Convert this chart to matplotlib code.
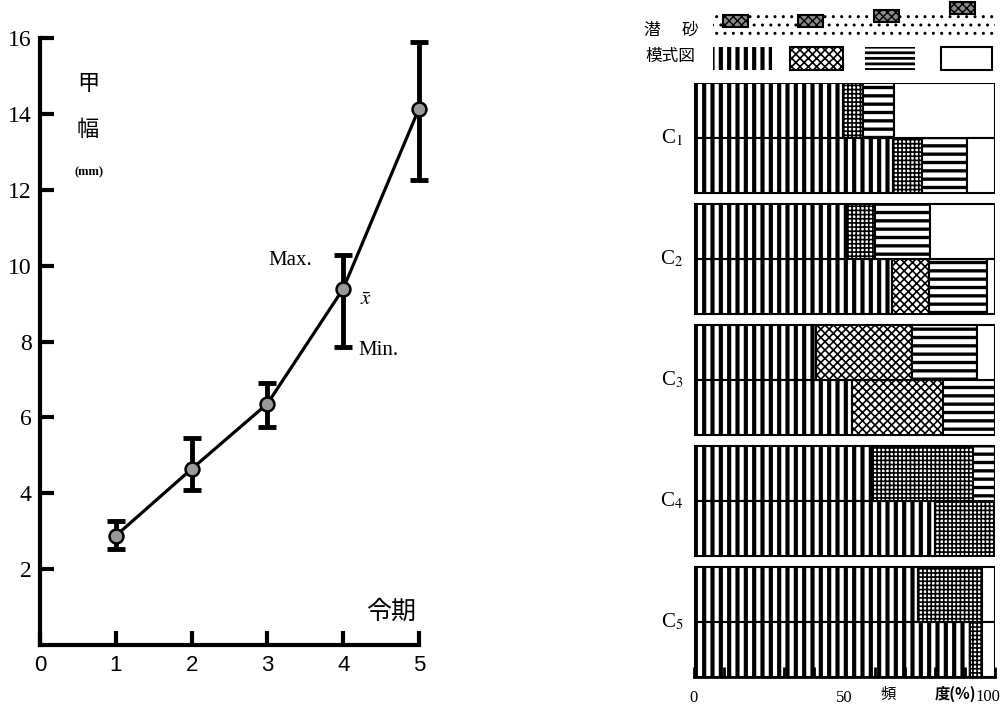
#! /usr/bin/env python3
import matplotlib
matplotlib.use('Agg')
import matplotlib.pyplot as plt
from matplotlib.patches import Rectangle

plt.rcParams['font.family'] = ['Liberation Serif', 'Noto Sans CJK JP']
plt.rcParams['mathtext.fontset'] = 'stix'

W, H = 1001, 714

# left panel: carapace width (mm) per instar
stage = [1, 2, 3, 4, 5]
width_mean = [2.88, 4.64, 6.36, 9.39, 14.14]
width_max = [3.27, 5.46, 6.91, 10.29, 15.90]
width_min = [2.52, 4.09, 5.75, 7.86, 12.27]
x_ticks = [0, 1, 2, 3, 4, 5]
y_ticks = [2, 4, 6, 8, 10, 12, 14, 16]

# right panel: frequency (%) of each pattern type, two rows per group
groups = ['C$_1$', 'C$_2$', 'C$_3$', 'C$_4$', 'C$_5$']
pattern_a = [49.5, 66.0, 50.8, 65.8, 40.5, 52.5, 59.5, 80.0, 74.4, 91.7]
pattern_b = [6.6, 9.7, 9.3, 12.3, 31.9, 30.2, 33.2, 20.0, 21.3, 4.0]
pattern_c = [10.3, 15.0, 18.3, 19.2, 21.6, 17.3, 7.3, 0.0, 0.0, 0.0]
pattern_d = [33.6, 9.3, 21.6, 2.7, 6.0, 0.0, 0.0, 0.0, 4.3, 4.3]
freq_ticks = [0, 10, 20, 30, 40, 50, 60, 70, 80, 90, 100]
freq_labels = ['0', '', '', '', '', '50', '', '', '', '', '']

# textures used for the second class on each row
b_hatch = ['++++', '++++', '++++', 'xxxx', 'xxxx', 'xxxx',
           '++++', '++++', '++++', '++++']


def fx(x):
    return x / W


def fy(y):
    return 1 - y / H


def set_hlw(patches, lw):
    for p in patches:
        try:
            p.set_hatch_linewidth(lw)
        except AttributeError:
            pass


fig = plt.figure(figsize=(W / 100, H / 100), dpi=100)

# ---------------- left panel ----------------
ax = fig.add_axes([fx(40), fy(645), (419 - 40) / W, (645 - 38) / H])
ax.set_xlim(0, 5)
ax.set_ylim(0, 16)
for s in ['top', 'right']:
    ax.spines[s].set_visible(False)
for s in ['left', 'bottom']:
    ax.spines[s].set_linewidth(3)
ax.tick_params(axis='both', direction='in', length=10, width=3)
ax.tick_params(axis='y', pad=6, labelsize=17)
ax.tick_params(axis='x', pad=7, labelsize=16)
ax.set_xticks(x_ticks)
ax.set_yticks(y_ticks)
for t in ax.get_xticklabels():
    t.set_family('Liberation Sans')

lo = [m - n for m, n in zip(width_mean, width_min)]
hi = [x - m for m, x in zip(width_mean, width_max)]
ax.errorbar(stage, width_mean, yerr=[lo, hi], fmt='none', ecolor='black',
            elinewidth=3.5, capsize=6.5, capthick=3.5, clip_on=False, zorder=2)
ax.plot(stage, width_mean, color='black', lw=2.3, clip_on=False, zorder=3)
ax.plot(stage, width_mean, 'o', ms=10, mfc='#9a9a9a', mec='black', mew=1.8,
        clip_on=False, zorder=4)

jp = 'Noto Sans CJK JP'
fig.text(fx(88), fy(83), '甲', family=jp, fontsize=16, ha='center', va='center')
fig.text(fx(88), fy(130), '幅', family=jp, fontsize=16, ha='center', va='center')
fig.text(fx(89), fy(172), '(mm)', fontsize=9, weight='bold', ha='center', va='center')
fig.text(fx(391), fy(612), '令期', family=jp, fontsize=18, ha='center', va='center')
fig.text(fx(268), fy(265), 'Max.', fontsize=15, ha='left', va='baseline')
fig.text(fx(366), fy(300), r'$\bar{x}$', fontsize=15, ha='center', va='center')
fig.text(fx(358), fy(355), 'Min.', fontsize=15, ha='left', va='baseline')

# ---------------- right panel ----------------
ax2 = fig.add_axes([fx(694), fy(677), (995 - 694) / W, (677 - 83) / H])
ax2.set_xlim(0, 100)
ax2.set_ylim(10.8, 0)
ypos = [g * 2.2 + b + 0.5 for g in range(len(groups)) for b in range(2)]

left = [0.0] * len(ypos)
bars = ax2.barh(ypos, pattern_a, left=left, height=1, color='white',
                edgecolor='black', linewidth=1.5, hatch='||')
set_hlw(bars, 3.0)
left = [l + v for l, v in zip(left, pattern_a)]
for i in range(len(ypos)):
    b = ax2.barh(ypos[i], pattern_b[i], left=left[i], height=1, color='white',
                 edgecolor='black', linewidth=1.5, hatch=b_hatch[i])
    set_hlw(b, 1.2)
left = [l + v for l, v in zip(left, pattern_b)]
bars = ax2.barh(ypos, pattern_c, left=left, height=1, color='white',
                edgecolor='black', linewidth=1.5, hatch='--')
set_hlw(bars, 2.4)
left = [l + v for l, v in zip(left, pattern_c)]
ax2.barh(ypos, pattern_d, left=left, height=1, color='white',
         edgecolor='black', linewidth=1.5)

for s in ['top', 'right', 'left']:
    ax2.spines[s].set_visible(False)
ax2.spines['bottom'].set_linewidth(2)
ax2.set_yticks([])
ax2.set_xticks(freq_ticks)
ax2.set_xticklabels(freq_labels)
ax2.tick_params(axis='x', direction='in', length=7, width=2, pad=9, labelsize=12)

for g, name in enumerate(groups):
    ax2.text(-7.3, g * 2.2 + 1, name, fontsize=15, ha='center', va='center',
             clip_on=False)

fig.text(fx(888), fy(694), '頻', family=jp, fontsize=11, ha='center', va='center')
fig.text(fx(955), fy(694), '度(%)', family=jp, fontsize=11, weight='bold',
         ha='center', va='center')
fig.text(fx(1000), fy(697), '100', fontsize=12, ha='right', va='center')

# ---------------- legend block ----------------
lg = fig.add_axes([fx(640), fy(75), (W - 640) / W, 75 / H])
lg.set_xlim(640, W)
lg.set_ylim(75, 0)
lg.axis('off')
lg.add_patch(Rectangle((713, 13), 282, 24, facecolor='white', edgecolor='black',
                       lw=0, hatch='..'))
for (x0, y0) in [(723, 15), (798, 15), (874, 10), (950, 2)]:
    lg.add_patch(Rectangle((x0, y0), 25, 12, facecolor='#8a8a8a',
                           edgecolor='black', lw=1.5, hatch='xxxx'))
lg.add_patch(Rectangle((713, 47), 59, 23, facecolor='white', edgecolor='black',
                       lw=0, hatch='||'))
set_hlw([lg.patches[-1]], 3.0)
lg.add_patch(Rectangle((790, 47), 53, 23, facecolor='white', edgecolor='black',
                       lw=1.5, hatch='xxxx'))
set_hlw([lg.patches[-1]], 1.2)
lg.add_patch(Rectangle((865, 47), 50, 23, facecolor='white', edgecolor='black',
                       lw=0, hatch='---'))
set_hlw([lg.patches[-1]], 2.0)
lg.add_patch(Rectangle((941, 47), 51, 23, facecolor='white', edgecolor='black',
                       lw=1.5))
lg.text(652, 30, '潜', family=jp, fontsize=12, ha='center', va='center')
lg.text(690, 30, '砂', family=jp, fontsize=12, ha='center', va='center')
lg.text(670, 56, '模式図', family=jp, fontsize=12, ha='center', va='center')

fig.savefig('out.png', dpi=100)
